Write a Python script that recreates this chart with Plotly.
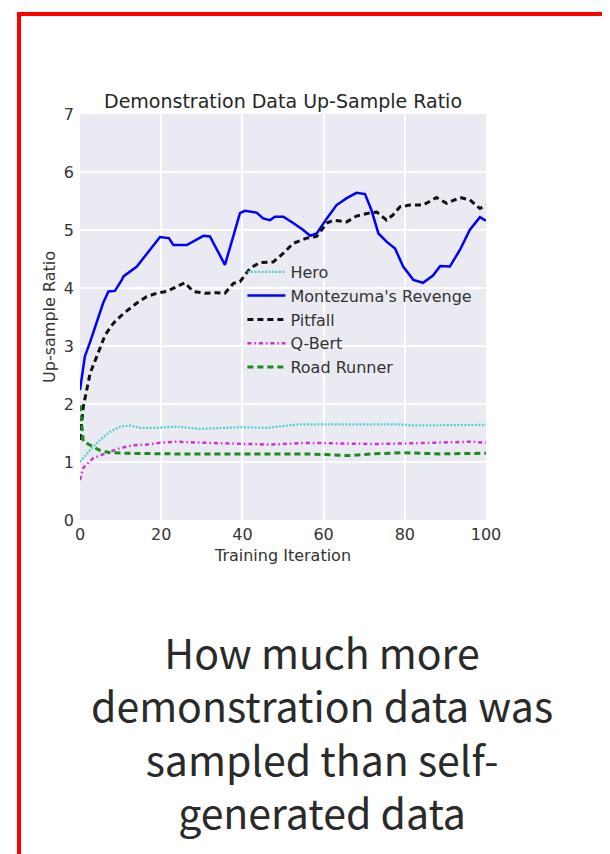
import plotly.graph_objects as go

# ---- data ----
mont_x = [0, 1.2, 2.5, 4.1, 5.7, 7, 8.6, 10.3, 10.7, 14, 17.2, 19.7, 21.9, 23, 26.3, 28.7, 30.4, 32, 34.5, 35.7, 37,
          39.4, 40.6, 43.5, 45.1, 46.8, 48, 50.1, 52.5, 55, 56.7, 58.3, 60.8, 63.2, 65.7, 68.1, 70.2, 71.8, 73.5,
          75.5, 77.6, 79.6, 82.1, 84.5, 87, 88.7, 91.1, 93.6, 96, 98.5, 100]
mont_y = [2.24, 2.82, 3.07, 3.39, 3.74, 3.94, 3.95, 4.14, 4.2, 4.37, 4.66, 4.88, 4.86, 4.74, 4.74, 4.84, 4.9, 4.89, 4.54,
          4.4, 4.71, 5.29, 5.33, 5.3, 5.2, 5.17, 5.23, 5.23, 5.12, 5.0, 4.9, 4.94, 5.2, 5.43, 5.55, 5.64, 5.62,
          5.34, 4.94, 4.8, 4.68, 4.37, 4.14, 4.09, 4.22, 4.38, 4.37, 4.66, 5.0, 5.22, 5.16]

pit_x = [0, 0.8, 2.5, 4.5, 6.2, 8.2, 10.7, 14, 16.4, 18.9, 21.3, 23.8, 25.8, 27.9, 30.7, 33.6, 35.7, 37.8, 39.4,
         41.9, 44.3, 47.6, 50.1, 52.5, 55.8, 58.3, 60.8, 62.4, 65.7, 68.1, 71, 73.1, 75.5, 77.1, 78.8, 81.3, 84.5,
         87.8, 90.3, 93.6, 96, 98.5, 100]
pit_y = [1.38, 1.95, 2.53, 2.87, 3.19, 3.39, 3.56, 3.74, 3.85, 3.91, 3.94, 4.02, 4.09, 3.94, 3.91, 3.92, 3.91, 4.08,
         4.11, 4.34, 4.44, 4.45, 4.6, 4.77, 4.86, 4.89, 5.12, 5.17, 5.14, 5.24, 5.29, 5.31, 5.17, 5.26, 5.4, 5.43,
         5.43, 5.56, 5.46, 5.56, 5.52, 5.37, 5.43]

hero_x = [0, 2.5, 4.9, 7.4, 9.9, 12.3, 14.8, 18.9, 23.8, 29.6, 39.4, 46, 54.2, 60.8, 69, 78.8, 82, 88.7, 100]
hero_y = [1.0, 1.21, 1.38, 1.52, 1.61, 1.63, 1.59, 1.59, 1.61, 1.57, 1.6, 1.59, 1.65, 1.65, 1.66, 1.65, 1.63, 1.63, 1.64]

qbert_x = [0, 0.8, 3.3, 6.6, 9.9, 13.1, 16.4, 19.7, 23.8, 31.2, 39.4, 46.8, 55.8, 64, 72.2, 80.4, 88.7, 96.9, 100]
qbert_y = [0.69, 0.9, 1.07, 1.15, 1.24, 1.29, 1.3, 1.33, 1.35, 1.33, 1.32, 1.3, 1.33, 1.32, 1.31, 1.32, 1.33, 1.35, 1.33]

road_x = [0, 0.4, 0.8, 2.5, 4.9, 7.4, 11.5, 23, 39.4, 55.8, 66.5, 72, 79.6, 88.7, 100]
road_y = [1.98, 1.6, 1.36, 1.29, 1.2, 1.16, 1.15, 1.14, 1.14, 1.14, 1.11, 1.14, 1.16, 1.14, 1.15]

x_ticks = [0, 20, 40, 60, 80, 100]
y_ticks = [0, 1, 2, 3, 4, 5, 6, 7]

TITLE = "Demonstration Data Up-Sample Ratio"
CAPTION_LINES = ["How much more", "demonstration data was", "sampled than self-", "generated data"]

# page body has an 8px margin: plot area sits at viewport x 80-486, y 114-520
PW = 406.0
def px_x(v):
    return (v - 80) / PW
def px_y(v):
    return (520 - v) / PW

fig = go.Figure()
fig.add_trace(go.Scatter(x=hero_x, y=hero_y, mode="lines", name="Hero",
                         line=dict(color="#4fd0d0", width=2.2, dash="2px,1.5px")))
fig.add_trace(go.Scatter(x=mont_x, y=mont_y, mode="lines", name="Montezuma's Revenge",
                         line=dict(color="#0000ff", width=2.5)))
fig.add_trace(go.Scatter(x=pit_x, y=pit_y, mode="lines", name="Pitfall",
                         line=dict(color="#111111", width=3, dash="6px,4px")))
fig.add_trace(go.Scatter(x=qbert_x, y=qbert_y, mode="lines", name="Q-Bert",
                         line=dict(color="#d030d0", width=2.5, dash="4px,3px,1.5px,3px")))
fig.add_trace(go.Scatter(x=road_x, y=road_y, mode="lines", name="Road Runner",
                         line=dict(color="#1a8c1a", width=3, dash="6px,4px")))

tick_font = dict(family="DejaVu Sans", size=16, color="#333333")
axis_title_font = dict(family="DejaVu Sans", size=16, color="#333333")

annotations = [
    dict(text=TITLE, xref="paper", yref="paper", x=0.5, y=1, xanchor="center", yanchor="bottom",
         yshift=0, showarrow=False,
         font=dict(family="DejaVu Sans", size=19, color="#262626")),
    dict(text="<br>".join(CAPTION_LINES), xref="paper", yref="paper", x=px_x(321.5), y=px_y(731),
         xanchor="center", yanchor="middle", showarrow=False, align="center",
         font=dict(family="Noto Sans CJK KR", size=41, color="#2a2a2a")),
]

fig.update_layout(
    width=602, height=846,
    margin=dict(l=72, r=124, t=106, b=334, pad=0),
    paper_bgcolor="white",
    plot_bgcolor="#eaeaf2",
    showlegend=True,
    legend=dict(x=0.40, y=0.653, xanchor="left", yanchor="top",
                bgcolor="rgba(0,0,0,0)", borderwidth=0,
                font=dict(family="DejaVu Sans", size=16, color="#333333"),
                tracegroupgap=0, itemwidth=38),
    xaxis=dict(range=[0, 100], tickvals=x_ticks, ticktext=[str(v) for v in x_ticks],
               showgrid=True, gridcolor="white", gridwidth=1.5, zeroline=False,
               showline=False, ticks="", tickfont=tick_font, ticklabelstandoff=3,
               title=dict(text="Training Iteration", standoff=6, font=axis_title_font)),
    yaxis=dict(range=[0, 7], tickvals=y_ticks, ticktext=[str(v) for v in y_ticks],
               showgrid=True, gridcolor="white", gridwidth=1.5, zeroline=False,
               showline=False, ticks="", tickfont=tick_font, ticklabelstandoff=5,
               title=dict(text="Up-sample Ratio", standoff=4, font=axis_title_font)),
    annotations=annotations,
    shapes=[
        dict(type="line", xref="paper", yref="paper", x0=px_x(19), x1=px_x(19),
             y0=px_y(12), y1=px_y(870), line=dict(color="#ff0000", width=4)),
        dict(type="line", xref="paper", yref="paper", x0=px_x(17), x1=px_x(620),
             y0=px_y(14), y1=px_y(14), line=dict(color="#ff0000", width=4)),
    ],
)

fig.write_html("out.html")
